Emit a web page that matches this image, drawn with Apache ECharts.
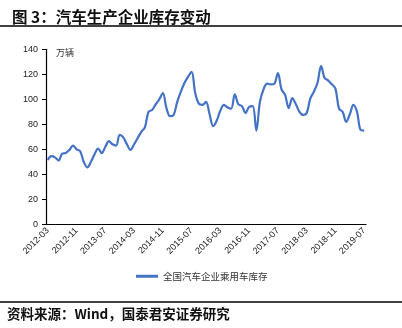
<!DOCTYPE html>
<html>
<head>
<meta charset="utf-8">
<script src="https://cdn.jsdelivr.net/npm/echarts@6/dist/echarts.min.js"></script>
<style>
  html, body { margin: 0; padding: 0; background: #fff; }
  #chart { width: 402px; height: 328px; }
</style>
</head>
<body>
<div id="chart"></div>
<script>
// Monthly passenger-car inventory held by domestic manufacturers (万辆), 2012-03 .. 2019-07
const startYear = 2012, startMonth = 3, monthCount = 89;
const months = [];
for (let k = 0; k < monthCount; k++) {
  const m = startMonth - 1 + k;
  const y = startYear + Math.floor(m / 12);
  const mm = (m % 12) + 1;
  months.push(y + '-' + (mm < 10 ? '0' + mm : mm));
}

const inventory = [
  51.5, 54.5, 53.5, 51, 56.5, 57, 59.5, 63, 60, 58.5,
  50, 45.5, 50, 56, 60.5, 57, 62, 66.5, 64, 63,
  71.5, 69.5, 64, 59.5, 64, 69, 74, 77.5, 90, 91.5,
  96, 100, 105, 93, 86.5, 87.5, 98, 106, 113, 118,
  122, 105, 96.5, 95.5, 98, 88, 78.5, 83, 91, 95.5,
  93.5, 92.5, 104, 96, 94.5, 89, 94, 94.5, 75, 98,
  108, 112.5, 112, 112.5, 121, 108, 103.5, 93, 101, 96,
  90, 87.5, 89, 100.5, 106, 113, 126.5, 117, 115, 112,
  108.5, 92.5, 90, 82, 88, 95.5, 90, 75.5, 75
];

const yTicks = { min: 0, max: 140, interval: 20 };
const seriesName = '全国汽车企业乘用车库存';
const unitText = '万辆';
const titleText = '图 3：汽车生产企业库存变动';
const sourceText = '资料来源：Wind，国泰君安证券研究';

const chart = echarts.init(document.getElementById('chart'), null, { renderer: 'canvas' });
const axisFont = { fontFamily: 'Liberation Sans, Arial, sans-serif', fontSize: 9, color: '#222' };

chart.setOption({
  animation: false,
  backgroundColor: '#fff',
  title: {
    text: titleText,
    left: 7, top: 4,
    textStyle: { fontFamily: 'Noto Sans CJK SC', fontWeight: 'bold', fontSize: 15.5, color: '#111' }
  },
  graphic: [
    { type: 'line', shape: { x1: 0, y1: 26, x2: 402, y2: 26 }, style: { stroke: '#000', lineWidth: 1.5 } },
    { type: 'line', shape: { x1: 0, y1: 302, x2: 402, y2: 302 }, style: { stroke: '#000', lineWidth: 1.5 } },
    { type: 'text', left: 7, top: 307,
      style: { text: sourceText, font: 'bold 13.5px "Noto Sans CJK SC"', fill: '#111' } },
    { type: 'text', left: 56, top: 48,
      style: { text: unitText, font: '9px "Noto Sans CJK SC"', fill: '#333' } }
  ],
  legend: {
    data: [seriesName],
    bottom: 42, left: 131,
    itemWidth: 22, itemHeight: 3, itemGap: 4,
    icon: 'rect',
    textStyle: { fontFamily: 'Noto Sans CJK SC', fontSize: 9.5, color: '#333' }
  },
  grid: { left: 46, right: 36, top: 49.3, bottom: 103.7, containLabel: false },
  xAxis: {
    type: 'category',
    data: months,
    boundaryGap: true,
    axisLine: { lineStyle: { color: '#000', width: 1.2 } },
    axisTick: { show: false },
    axisLabel: Object.assign({ interval: 7, rotate: 45, margin: 5 }, axisFont)
  },
  yAxis: {
    type: 'value',
    min: yTicks.min, max: yTicks.max, interval: yTicks.interval,
    splitLine: { show: false },
    axisLine: { show: true, lineStyle: { color: '#000', width: 1.2 } },
    axisTick: { show: true, inside: false, length: 4, lineStyle: { color: '#000' } },
    axisLabel: Object.assign({ margin: 8 }, axisFont)
  },
  series: [{
    name: seriesName,
    type: 'line',
    data: inventory,
    smooth: 0.35,
    showSymbol: false,
    lineStyle: { color: '#4472C4', width: 2.2 },
    itemStyle: { color: '#4472C4' }
  }]
});
</script>
</body>
</html>
